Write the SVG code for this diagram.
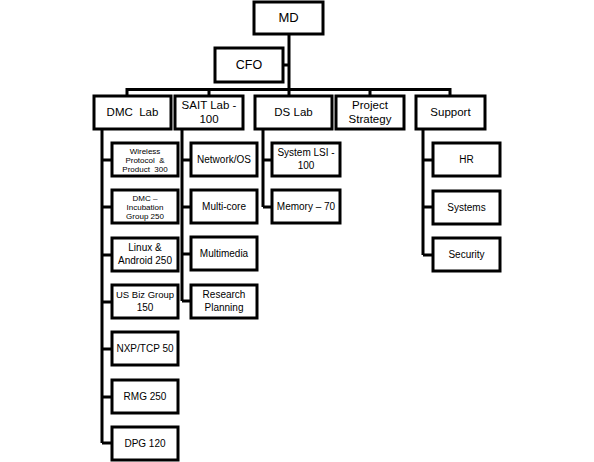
<svg xmlns="http://www.w3.org/2000/svg" width="594" height="462" viewBox="0 0 594 462">
<style>
rect{fill:#fff;stroke:#000;stroke-width:3}
text{font-family:"Liberation Sans",Arial,sans-serif;font-size:11.5px;fill:#000;text-anchor:middle;dominant-baseline:middle}
.s{font-size:8px}
.m{font-size:10px}
#connectors path{fill:none;stroke:#000;stroke-width:3}
</style>
<rect x="0" y="0" width="594" height="462" style="stroke:none"/>
<g id="connectors">
<path d="M289 34V96M283 65H289M127 89.5H450M127 88V96M209 88V96M370 88V96M450 88V96"/>
<path d="M102 129V443M102 160H112M102 207H112M102 255H112M102 302H112M102 349H112M102 397H112M102 443H112"/>
<path d="M182 129V301M182 160H191M182 207H191M182 254H191M182 301H191"/>
<path d="M263 129V207M263 160H272M263 207H272"/>
<path d="M423 129V255M423 160H433M423 207H433M423 255H433"/>
</g>
<g id="md"><rect x="254" y="2" width="69" height="32"/><text x="288.5" y="18.5" style="font-size:13px">MD</text></g>
<g id="cfo"><rect x="215" y="48" width="68" height="34"/><text x="249" y="65.5" style="font-size:12.5px">CFO</text></g>
<g id="dmc-lab"><rect x="94" y="96" width="77" height="33"/><text x="132.5" y="113" xml:space="preserve">DMC  Lab</text></g>
<g id="sait-lab"><rect x="175" y="96" width="68" height="33"/><text x="209" y="106">SAIT Lab -</text><text x="209" y="120">100</text></g>
<g id="ds-lab"><rect x="255" y="96" width="77" height="33"/><text x="293.5" y="113">DS Lab</text></g>
<g id="project-strategy"><rect x="336" y="96" width="68" height="33"/><text x="370" y="106">Project</text><text x="370" y="120">Strategy</text></g>
<g id="support"><rect x="416" y="96" width="69" height="33"/><text x="450.5" y="113">Support</text></g>

<g id="wireless"><rect x="112" y="143" width="66" height="33"/><text class="s" x="145" y="151.5">Wireless</text><text class="s" x="145" y="160.5" xml:space="preserve">Protocol  &amp;</text><text class="s" x="145" y="169.5" xml:space="preserve">Product  300</text></g>
<g id="dmc-incubation"><rect x="112" y="190" width="66" height="33"/><text class="s" x="145" y="198.5">DMC –</text><text class="s" x="145" y="207.5">Incubation</text><text class="s" x="145" y="216.5">Group 250</text></g>
<g id="linux"><rect x="112" y="238" width="66" height="33"/><text class="m" x="145" y="248.5">Linux &amp;</text><text class="m" x="145" y="261.5">Android 250</text></g>
<g id="usbiz"><rect x="112" y="285" width="66" height="33"/><text class="m" x="145" y="295.5" style="font-size:9.5px">US Biz Group</text><text class="m" x="145" y="308.5">150</text></g>
<g id="nxp"><rect x="112" y="332" width="66" height="33"/><text class="m" x="145" y="349">NXP/TCP 50</text></g>
<g id="rmg"><rect x="112" y="380" width="66" height="33"/><text class="m" x="145" y="397">RMG 250</text></g>
<g id="dpg"><rect x="112" y="427" width="66" height="33"/><text class="m" x="145" y="444">DPG 120</text></g>

<g id="network-os"><rect x="191" y="143" width="66" height="33"/><text class="m" x="224" y="160">Network/OS</text></g>
<g id="multi-core"><rect x="191" y="190" width="66" height="33"/><text class="m" x="224" y="207">Multi-core</text></g>
<g id="multimedia"><rect x="191" y="237" width="66" height="33"/><text class="m" x="224" y="254">Multimedia</text></g>
<g id="research-planning"><rect x="191" y="285" width="66" height="33"/><text class="m" x="224" y="295.5">Research</text><text class="m" x="224" y="308.5">Planning</text></g>

<g id="system-lsi"><rect x="272" y="143" width="68" height="33"/><text class="m" x="306" y="153.5">System LSI -</text><text class="m" x="306" y="166.5">100</text></g>
<g id="memory"><rect x="272" y="190" width="68" height="33"/><text class="m" x="306" y="207">Memory – 70</text></g>

<g id="hr"><rect x="433" y="143" width="67" height="33"/><text class="m" x="466.5" y="160">HR</text></g>
<g id="systems"><rect x="433" y="191" width="67" height="33"/><text class="m" x="466.5" y="208">Systems</text></g>
<g id="security"><rect x="433" y="238" width="67" height="33"/><text class="m" x="466.5" y="255">Security</text></g>
</svg>
